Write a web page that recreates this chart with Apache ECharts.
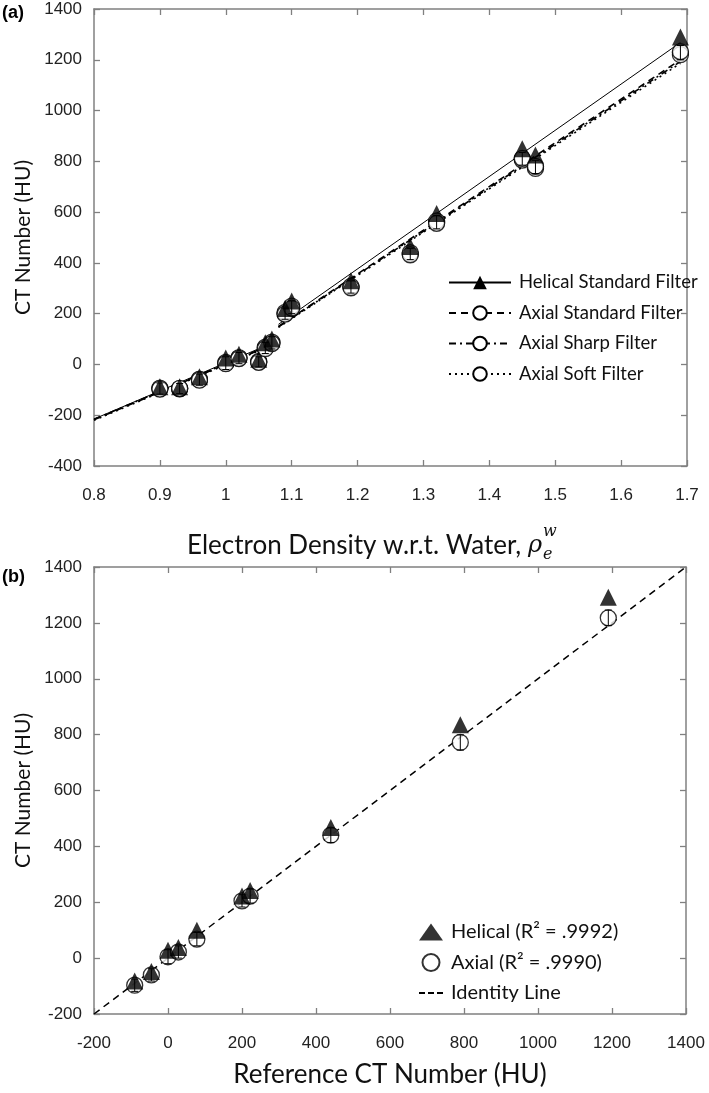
<!DOCTYPE html>
<html><head><meta charset="utf-8">
<script src="https://cdn.jsdelivr.net/npm/echarts@6/dist/echarts.min.js"></script>
<style>html,body{margin:0;padding:0;background:#fff}#c{width:709px;height:1093px}</style>
</head><body><div id="c"></div>
<script>
// ---------- Panel (a) data ----------
const densityX   = [0.90, 0.93, 0.96, 1.00, 1.02, 1.05, 1.06, 1.07, 1.09, 1.10, 1.19, 1.28, 1.32, 1.45, 1.47, 1.69];
const helicalStd = [-88, -88, -48, 25, 40, 20, 85, 100, 220, 250, 330, 465, 595, 850, 825, 1290];
const axialStd   = [-95, -95, -60, 5, 25, 10, 65, 85, 200, 225, 305, 435, 560, 810, 778, 1228];
const axialSharp = [-93, -96, -58, 8, 27, 12, 68, 88, 205, 230, 308, 440, 565, 805, 772, 1220];
const axialSoft  = [-97, -94, -62, 3, 23, 8, 62, 82, 198, 222, 302, 432, 556, 812, 780, 1232];
const axialErr   = [22, 20, 22, 25, 22, 20, 22, 24, 22, 25, 24, 22, 26, 25, 26, 28];
// piecewise linear calibration fits (x, HU)
const helicalFit    = [[0.8, -215], [1.08, 95], '-', [1.08, 158], [1.69, 1268]];
const axialStdFit   = [[0.8, -218], [1.08, 88], '-', [1.08, 150], [1.69, 1200]];
const axialSharpFit = [[0.8, -216], [1.08, 90], '-', [1.08, 148], [1.69, 1193]];
const axialSoftFit  = [[0.8, -220], [1.08, 86], '-', [1.08, 146], [1.69, 1186]];
const aXTicks = {min: 0.8, max: 1.7, interval: 0.1};
const aYTicks = {min: -400, max: 1400, interval: 200};

// ---------- Panel (b) data ----------
const refCT     = [-90, -45, 0, 28, 78, 200, 222, 440, 790, 1190];
const helicalCT = [-82, -48, 28, 38, 100, 222, 242, 468, 835, 1292];
const axialCT   = [-97, -60, 5, 22, 68, 205, 222, 440, 772, 1218];
const axialCTErr = [22, 22, 25, 22, 24, 22, 25, 26, 27, 28];
const identity  = [[-200, -200], [1400, 1400]];
const bTicks = {min: -200, max: 1400, interval: 200};

const pair = (xs, ys) => xs.map((x, i) => [x, ys[i]]);
const triple = (xs, ys, es) => xs.map((x, i) => [x, ys[i], es[i]]);

const AX = '#808080';
const tickFont = {fontFamily: 'Liberation Sans', fontSize: 17, color: '#222'};
const titleFont = 'Lato';

function boxAxes(grid, t, isX, labelsOn, extra) {
  const base = {
    gridIndex: grid, type: 'value', min: t.min, max: t.max, interval: t.interval,
    axisLine: {show: true, onZero: false, lineStyle: {color: AX, width: 1.5}},
    axisTick: {show: true, inside: true, length: 6, lineStyle: {color: AX, width: 1.3}},
    splitLine: {show: false}
  };
  const main = Object.assign({}, base, {
    position: isX ? 'bottom' : 'left',
    axisLabel: Object.assign({show: labelsOn, margin: isX ? 21 : 12,
      formatter: v => String(Math.round(v * 10) / 10)}, tickFont)
  }, extra || {});
  const opp = Object.assign({}, base, {position: isX ? 'top' : 'right', axisLabel: {show: false}});
  return [main, opp];
}

const ya = boxAxes(0, aYTicks, false, true, {
  name: 'CT Number (HU)', nameLocation: 'middle', nameGap: 60,
  nameTextStyle: {fontFamily: titleFont, fontSize: 21, color: '#111'}
});
const xa = boxAxes(0, aXTicks, true, true);
const yb = boxAxes(1, bTicks, false, true, {
  name: 'CT Number (HU)', nameLocation: 'middle', nameGap: 60,
  nameTextStyle: {fontFamily: titleFont, fontSize: 21, color: '#111'}
});
const xb = boxAxes(1, bTicks, true, true, {
  name: 'Reference CT Number (HU)', nameLocation: 'middle', nameGap: 48,
  nameTextStyle: {fontFamily: titleFont, fontSize: 26, color: '#111'}
});

const circleStyle = {color: '#fff', borderColor: '#000', borderWidth: 1.3};
const triStyle = {color: '#000'};

function fitLine(name, data, type, symbol, istyle, z) {
  return {name, type: 'line', xAxisIndex: 0, yAxisIndex: 0, data, showSymbol: false,
    symbol, symbolSize: symbol === 'triangle' ? 18 : 16, connectNulls: false, z,
    itemStyle: istyle, lineStyle: {color: '#000', width: type === 'solid' ? 1 : 1.6, type},
    animation: false};
}
function scat(name, data, xi, yi, symbol, istyle, z) {
  return {name, type: 'scatter', xAxisIndex: xi, yAxisIndex: yi, data, symbol,
    symbolSize: symbol === 'triangle' ? 17 : 16, itemStyle: istyle, z, animation: false};
}
function errBars(name, data, xi, yi, z) {
  return {name, type: 'custom', xAxisIndex: xi, yAxisIndex: yi, data, z, silent: true,
    renderItem: (params, api) => {
      const x = api.value(0), y = api.value(1), e = api.value(2);
      const lo = api.coord([x, y - e]), hi = api.coord([x, y + e]);
      const st = {stroke: '#000', lineWidth: 1};
      return {type: 'group', children: [
        {type: 'line', shape: {x1: lo[0], y1: lo[1], x2: hi[0], y2: hi[1]}, style: st},
        {type: 'line', shape: {x1: hi[0] - 3.5, y1: hi[1], x2: hi[0] + 3.5, y2: hi[1]}, style: st},
        {type: 'line', shape: {x1: lo[0] - 3.5, y1: lo[1], x2: lo[0] + 3.5, y2: lo[1]}, style: st}
      ]};
    }, animation: false};
}

const option = {
  backgroundColor: '#fff',
  animation: false,
  grid: [
    {left: 94, right: 22, top: 9, height: 457},
    {left: 94, right: 23, top: 567, height: 447}
  ],
  xAxis: [xa[0], xa[1], xb[0], xb[1]],
  yAxis: [ya[0], ya[1], yb[0], yb[1]],
  legend: [
    {data: ['Helical Standard Filter', 'Axial Standard Filter', 'Axial Sharp Filter', 'Axial Soft Filter'],
     orient: 'vertical', left: 443, top: 268, itemWidth: 62, itemHeight: 17, itemGap: 11.5,
     textStyle: {fontFamily: titleFont, fontSize: 18.5, color: '#111', padding: [0, 0, 0, 3]}},
    {data: ['Helical (R\u00b2 = .9992)', 'Axial (R\u00b2 = .9990)',
            {name: 'Identity Line', icon: 'path://M0,0h6v2h-6z M9,0h6v2h-6z M18,0h6v2h-6z'}],
     orient: 'vertical', left: 414, top: 917, itemWidth: 24, itemHeight: 17, itemGap: 10.5,
     textStyle: {fontFamily: titleFont, fontSize: 20, color: '#111', padding: [0, 0, 0, 3]}}
  ],
  series: [
    fitLine('Helical Standard Filter', helicalFit, 'solid', 'triangle', triStyle, 2),
    fitLine('Axial Standard Filter', axialStdFit, [7, 5], 'circle', circleStyle, 2),
    fitLine('Axial Sharp Filter', axialSharpFit, [7, 4, 2, 4], 'circle', circleStyle, 2),
    fitLine('Axial Soft Filter', axialSoftFit, [2, 4], 'circle', circleStyle, 2),
    scat('Axial Standard Filter', pair(densityX, axialStd), 0, 0, 'circle', circleStyle, 3),
    scat('Axial Sharp Filter', pair(densityX, axialSharp), 0, 0, 'circle', circleStyle, 3),
    scat('Axial Soft Filter', pair(densityX, axialSoft), 0, 0, 'circle', circleStyle, 3),
    errBars('errA', triple(densityX, axialStd, axialErr), 0, 0, 4),
    scat('Helical Standard Filter', pair(densityX, helicalStd), 0, 0, 'triangle', triStyle, 5),
    {name: 'Identity Line', type: 'line', xAxisIndex: 2, yAxisIndex: 2, data: identity, showSymbol: false,
     symbol: 'none', itemStyle: {color: '#000'}, lineStyle: {color: '#000', width: 1.5, type: [7, 5]}, z: 2},
    scat('Axial (R\u00b2 = .9990)', pair(refCT, axialCT), 2, 2, 'circle', circleStyle, 3),
    errBars('errB', triple(refCT, axialCT, axialCTErr), 2, 2, 4),
    scat('Helical (R\u00b2 = .9992)', pair(refCT, helicalCT), 2, 2, 'triangle', triStyle, 5)
  ],
  graphic: [
    {type: 'text', x: 2, y: 4, style: {text: '(a)', font: 'bold 18px "Liberation Sans"', fill: '#000'}},
    {type: 'text', x: 2, y: 568, style: {text: '(b)', font: 'bold 18px "Liberation Sans"', fill: '#000'}},
    {type: 'text', x: 542, y: 546, style: {text: 'Electron Density w.r.t. Water, {rho|\u03c1}',
      align: 'right', verticalAlign: 'middle', font: '26px Lato', fill: '#111',
      rich: {rho: {fontFamily: 'DejaVu Serif', fontStyle: 'italic', fontSize: 24, fill: '#111'}}}},
    {type: 'text', x: 543, y: 555, style: {text: 'e', align: 'left', verticalAlign: 'middle',
      font: 'italic 16px "DejaVu Serif"', fill: '#111'}},
    {type: 'text', x: 543, y: 532, style: {text: 'w', align: 'left', verticalAlign: 'middle',
      font: 'italic 16px "DejaVu Serif"', fill: '#111'}}
  ]
};
const chart = echarts.init(document.getElementById('c'), null, {renderer: 'canvas'});
chart.setOption(option);
</script></body></html>
